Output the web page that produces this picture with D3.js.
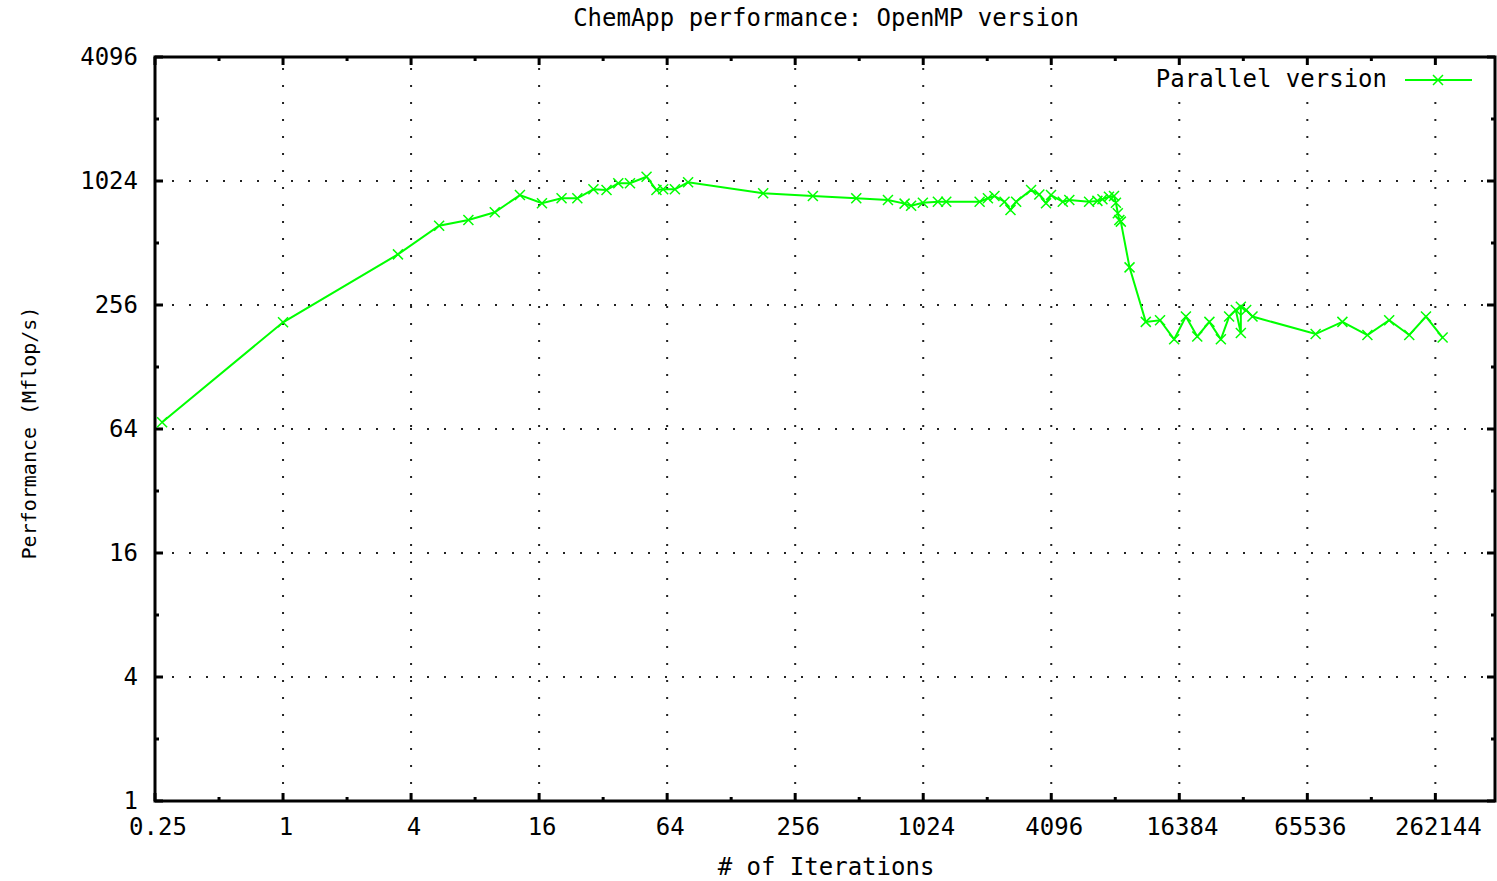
<!DOCTYPE html>
<html>
<head>
<meta charset="utf-8">
<script src="https://cdn.jsdelivr.net/npm/d3@7"></script>
<style>
  body { margin: 0; background: #fff; }
  text { font-family: "DejaVu Sans Mono", monospace; fill: #000; }
</style>
</head>
<body>
<div id="viz-container"></div>
<script>
// values
const iterations = [0.27, 1, 3.47, 5.42, 7.44, 9.9, 13, 16.5, 20.4, 24.2, 28.8, 33.2, 37.7, 42.8, 51.2, 57, 61.3, 69.6, 80.3,
  181, 310, 496, 699, 837, 898, 1020, 1200, 1314, 1886, 2063, 2214, 2470, 2634, 2800, 3292, 3600, 3870, 4085,
  4640, 4980, 6170, 6750, 7130, 7650, 8080, 8250, 8420, 8560, 8700, 9560, 11400, 13300, 15500, 17600, 19900,
  22700, 25700, 28100, 30200, 31900, 31900, 33800, 36200, 71700, 95800, 125600, 159000, 197600, 236800, 283600];
const mflops = [69, 211, 451, 621, 662, 722, 875, 798, 844, 844, 933, 926, 998, 998, 1074, 926, 933, 933, 1009,
  892, 866, 844, 828, 795, 777, 803, 812, 812, 812, 844, 866, 812, 740, 812, 926, 880, 798, 875,
  812, 828, 812, 820, 835, 859, 866, 803, 714, 662, 650, 390, 212, 216, 174.5, 225, 180,
  212, 174.5, 225, 242, 187, 251, 242, 225, 185, 212, 183, 216, 183, 225, 178];
const xTicks = [0.25, 1, 4, 16, 64, 256, 1024, 4096, 16384, 65536, 262144];
const xMinor = [0.5, 2, 8, 32, 128, 512, 2048, 8192, 32768, 131072];
const yTicks = [1, 4, 16, 64, 256, 1024, 4096];
const yMinor = [2, 8, 32, 128, 512, 2048];
const xLabels = ["0.25", "1", "4", "16", "64", "256", "1024", "4096", "16384", "65536", "262144"];

const W = 1497, H = 881;
const mLeft = 155, mRight = 1495, mTop = 57, mBottom = 801;

const viz = d3.select('#viz-container')
    .append('svg')
        .attr("width", W)
        .attr("height", H);

const x = d3.scaleLog().base(2).domain([0.25, 500000]).range([mLeft, mRight]);
const y = d3.scaleLog().base(2).domain([1, 4096]).range([mBottom, mTop]);

// grid
const grid = viz.append('g')
    .attr('stroke', '#222')
    .attr('stroke-width', 2)
    .attr('stroke-dasharray', '2,15');
grid.selectAll('line.gx').data(xTicks.slice(1)).enter()
    .append('line')
        .attr('x1', d => x(d)).attr('x2', d => x(d))
        .attr('y1', mBottom).attr('y2', mTop);
grid.selectAll('line.gy').data(yTicks.slice(1, -1)).enter()
    .append('line')
        .attr('y1', d => y(d)).attr('y2', d => y(d))
        .attr('x1', mLeft).attr('x2', mRight);

// ticks on all sides, drawn inward
const ticks = viz.append('g').attr('stroke', '#000').attr('stroke-width', 3);
const addX = (vals, len) => {
    vals.forEach(v => {
        ticks.append('line').attr('x1', x(v)).attr('x2', x(v)).attr('y1', mBottom).attr('y2', mBottom - len);
        ticks.append('line').attr('x1', x(v)).attr('x2', x(v)).attr('y1', mTop).attr('y2', mTop + len);
    });
};
const addY = (vals, len) => {
    vals.forEach(v => {
        ticks.append('line').attr('y1', y(v)).attr('y2', y(v)).attr('x1', mLeft).attr('x2', mLeft + len);
        ticks.append('line').attr('y1', y(v)).attr('y2', y(v)).attr('x1', mRight).attr('x2', mRight - len);
    });
};
addX(xTicks, 8); addX(xMinor, 4);
addY(yTicks, 8); addY(yMinor, 4);

// frame
viz.append('rect')
    .attr('x', mLeft).attr('y', mTop)
    .attr('width', mRight - mLeft).attr('height', mBottom - mTop)
    .attr('fill', 'none')
    .attr('stroke', '#000')
    .attr('stroke-width', 3);

// tick labels
viz.selectAll('text.xl').data(xTicks).enter()
    .append('text')
        .attr('x', d => x(d) + 3)
        .attr('y', 835)
        .attr('text-anchor', 'middle')
        .attr('font-size', 24)
        .text((d, i) => xLabels[i]);
viz.selectAll('text.yl').data(yTicks).enter()
    .append('text')
        .attr('x', 138)
        .attr('y', d => y(d) + 8)
        .attr('text-anchor', 'end')
        .attr('font-size', 24)
        .text(d => d);

// titles
viz.append('text').attr('x', 826).attr('y', 26).attr('text-anchor', 'middle')
    .attr('font-size', 24).text('ChemApp performance: OpenMP version');
viz.append('text').attr('x', 826).attr('y', 875).attr('text-anchor', 'middle')
    .attr('font-size', 24).text('# of Iterations');
viz.append('text').attr('transform', 'translate(36,433) rotate(-90)').attr('text-anchor', 'middle')
    .attr('font-size', 20).text('Performance (Mflop/s)');

// series
const data = iterations.map((d, i) => ({it: d, perf: mflops[i]}));
const green = '#00ff00';
viz.append('path')
    .datum(data)
    .attr('fill', 'none')
    .attr('stroke', green)
    .attr('stroke-width', 2)
    .attr('d', d3.line().x(d => x(d.it)).y(d => y(d.perf)));

const cross = (cx, cy) => `M${cx - 5},${cy - 5}L${cx + 5},${cy + 5}M${cx - 5},${cy + 5}L${cx + 5},${cy - 5}`;
viz.selectAll('path.pt').data(data).enter()
    .append('path')
        .attr('d', d => cross(x(d.it), y(d.perf)))
        .attr('stroke', green)
        .attr('stroke-width', 1.5);

// legend (blank box behind it, like gnuplot's key)
viz.append('rect').attr('x', 1145).attr('y', 66).attr('width', 340).attr('height', 26).attr('fill', '#fff');
viz.append('text').attr('x', 1387).attr('y', 87).attr('text-anchor', 'end')
    .attr('font-size', 24).text('Parallel version');
viz.append('line').attr('x1', 1405).attr('x2', 1472).attr('y1', 80).attr('y2', 80)
    .attr('stroke', green).attr('stroke-width', 2);
viz.append('path').attr('d', cross(1438, 80)).attr('stroke', green).attr('stroke-width', 1.5);
</script>
</body>
</html>
